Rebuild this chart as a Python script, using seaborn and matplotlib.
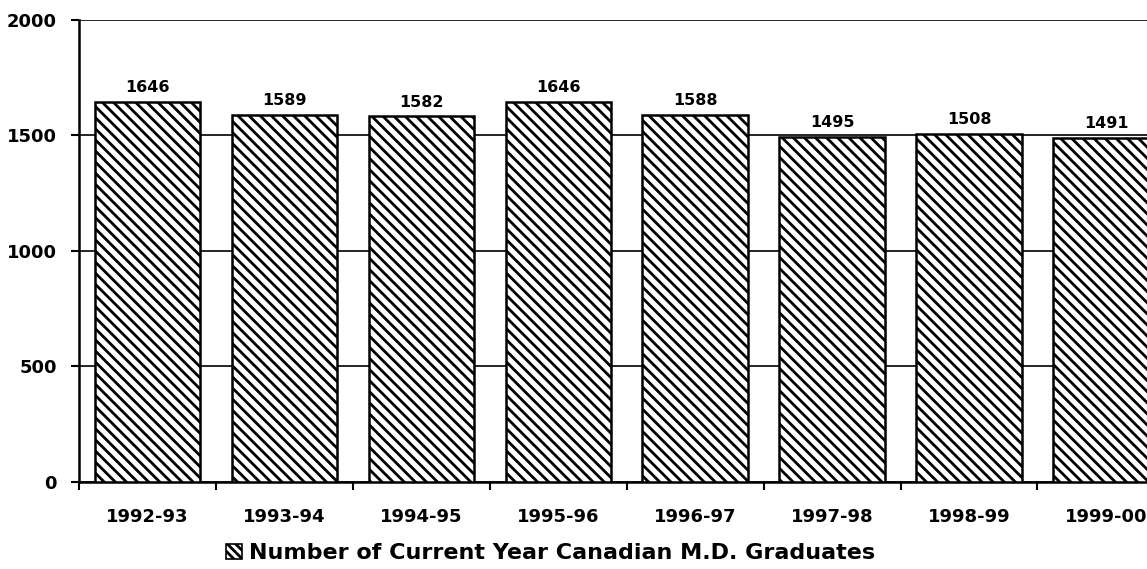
import numpy as np
import pandas as pd
import seaborn as sns
import matplotlib.pyplot as plt
from matplotlib.patches import Patch

years = ["1992-93", "1993-94", "1994-95", "1995-96",
         "1996-97", "1997-98", "1998-99", "1999-00"]
graduates = [1646, 1589, 1582, 1646, 1588, 1495, 1508, 1491]
series_name = "Number of Current Year Canadian M.D. Graduates"

sns.set_style("white")
plt.rcParams["font.family"] = ["DejaVu Sans"]
plt.rcParams["font.weight"] = "bold"
plt.rcParams["text.color"] = "black"
plt.rcParams["xtick.color"] = "black"
plt.rcParams["ytick.color"] = "black"
plt.rcParams["hatch.linewidth"] = 2.0

df = pd.DataFrame({"year": years, "graduates": graduates})

fig = plt.figure(figsize=(11.47, 5.69), dpi=100)
ax = fig.add_axes([0.0689, 0.153, 0.955, 0.812])

sns.barplot(data=df, x="year", y="graduates", ax=ax, color="white",
            width=0.77, edgecolor="black", linewidth=1.8, zorder=3)
for bar in ax.patches:
    bar.set_hatch("\\\\\\")

# value labels above bars
for bar, v in zip(ax.patches, graduates):
    ax.annotate(str(v), (bar.get_x() + bar.get_width() / 2, bar.get_height()),
                xytext=(0, 5), textcoords="offset points",
                ha="center", va="bottom", fontsize=11.5, fontweight="bold")

ax.set_ylim(0, 2000)
ax.set_xlim(-0.5, len(years) - 0.5)
ax.set_yticks([0, 500, 1000, 1500, 2000])
ax.yaxis.grid(True, color="black", linewidth=1.2, zorder=0)
ax.set_axisbelow(True)

# ticks on category boundaries, labels centred under bars
ax.set_xticks(np.arange(len(years) + 1) - 0.5)
ax.set_xticklabels([])
ax.set_xticks(np.arange(len(years)), minor=True)
ax.set_xticklabels(years, minor=True)
ax.tick_params(axis="x", which="major", direction="out", length=6, width=1.5,
               bottom=True)
ax.tick_params(axis="x", which="minor", length=0, pad=19, labelsize=13)
ax.tick_params(axis="y", direction="out", length=6, width=1.5, left=True,
               labelsize=13, pad=10)

for s in ["top", "right"]:
    ax.spines[s].set_visible(False)
for s in ["left", "bottom"]:
    ax.spines[s].set_linewidth(1.8)
    ax.spines[s].set_color("black")
ax.set_xlabel("")
ax.set_ylabel("")

handle = Patch(facecolor="white", edgecolor="black", hatch="\\\\\\\\", linewidth=1.2)
fig.legend([handle], [series_name], loc="center", bbox_to_anchor=(0.48, 0.028),
           frameon=False, handlelength=0.7, handleheight=0.7,
           handletextpad=0.3, prop={"weight": "bold", "size": 16})

fig.savefig("out.png", dpi=100)
